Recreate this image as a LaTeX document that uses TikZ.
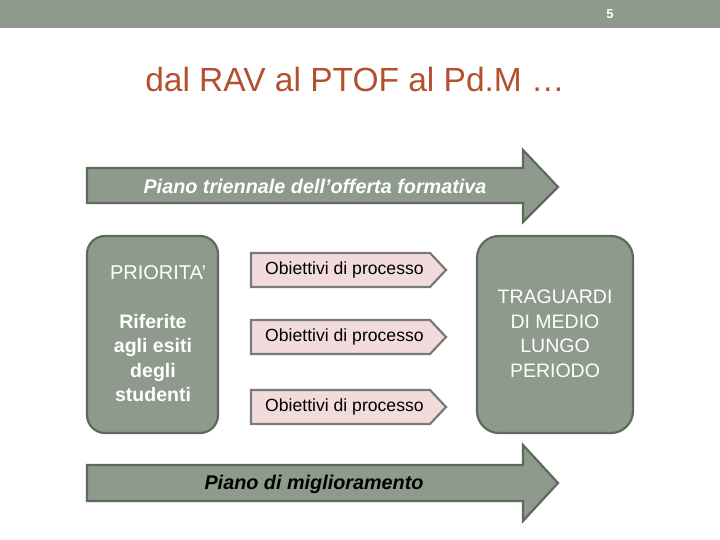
\documentclass[tikz,border=0pt]{standalone}
\usepackage{fontspec}
\setmainfont{Liberation Sans}
\begin{document}
\begin{tikzpicture}[x=1pt,y=-1pt,
  gg/.style={fill=gfill,draw=gline,line width=2.2pt},
  pk/.style={fill=pfill,draw=pline,line width=2.2pt},
  wt/.style={text=white,align=center}]
\definecolor{gfill}{HTML}{8D9A8C}
\definecolor{gline}{HTML}{5E6A5E}
\definecolor{pfill}{HTML}{F2DCDB}
\definecolor{pline}{HTML}{7A7A7A}
\definecolor{titlec}{HTML}{B5502F}
\useasboundingbox (0,0) rectangle (720,540);
\fill[fill=white] (0,0) rectangle (720,540);
\fill[gfill] (0,0) rectangle (720,28);
\node[text=white,font=\bfseries\fontsize{13}{15}\selectfont] (pg) at (610,14) {5};
\node[text=titlec,font=\fontsize{33.5}{38}\selectfont] (title) at (355,80) {dal RAV al PTOF al Pd.M …};
% top arrow
\draw[gg] (87,168) -- (523,168) -- (523,150) -- (558,187) -- (523,222) -- (523,203) -- (87,203) -- cycle;
\node[text=white,font=\bfseries\itshape\fontsize{19.8}{22}\selectfont] (ptof) at (315,186) {Piano triennale dell’offerta formativa};
% bottom arrow
\draw[gg] (87,465) -- (523,465) -- (523,445) -- (558,483) -- (523,521) -- (523,501) -- (87,501) -- cycle;
\node[text=black,font=\bfseries\itshape\fontsize{19.8}{22}\selectfont] (pdm) at (314,484) {Piano di miglioramento};
% left box
\draw[gg,rounded corners=18pt] (87,236) rectangle (218,433);
\node[wt,font=\fontsize{20}{24}\selectfont] (prio) at (158,273) {PRIORITA’};
\node[wt,font=\bfseries\fontsize{19.5}{24.5}\selectfont] (rif) at (153,358) {Riferite\\agli esiti\\degli\\studenti};
% right box
\draw[gg,rounded corners=22pt] (477,236) rectangle (633,433);
\node[wt,font=\fontsize{19.5}{24.5}\selectfont] (trag) at (555,334) {TRAGUARDI\\DI MEDIO\\LUNGO\\PERIODO};
% pink pentagons
\foreach \n/\y in {a/270,b/337,c/407}{
  \draw[pk] (251,\y-17) -- (430,\y-17) -- (446,\y) -- (430,\y+17) -- (251,\y+17) -- cycle;
  \node[anchor=west,inner sep=0pt,font=\fontsize{17.6}{20}\selectfont] (o\n) at (265,\y) {Obiettivi di processo};
}
\end{tikzpicture}
\end{document}
